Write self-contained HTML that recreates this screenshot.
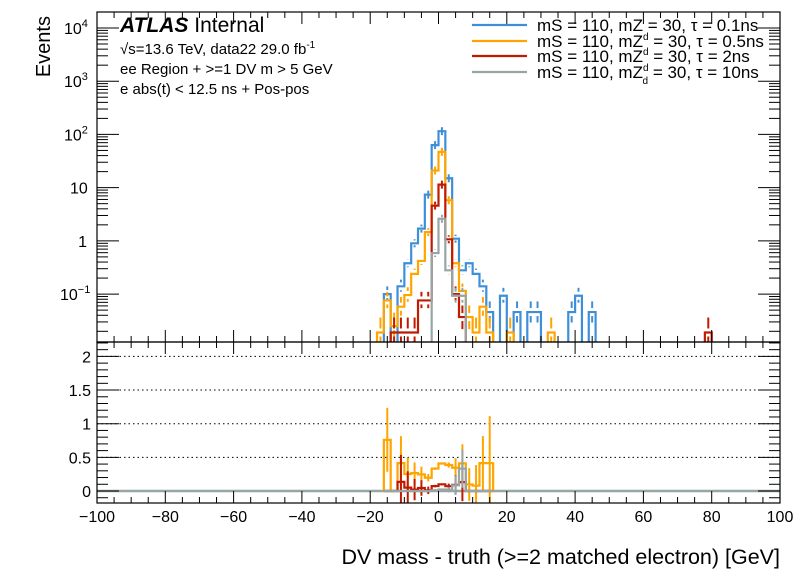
<!DOCTYPE html>
<html><head><meta charset="utf-8"><style>
body{margin:0;background:#fff;}
svg text{font-family:"Liberation Sans",sans-serif;}
</style></head><body>
<svg id="c" width="796" height="572" xmlns="http://www.w3.org/2000/svg"></svg>
<script>
// ---- data ----
const binStart = -18;   // first bin lower edge (GeV)
const binWidth = 2;
const blueVals   = [0, 0.1, 0, 0.14, 0.38, 0.9, 1.7, 7.4, 63, 115, 15, 1.1, 0.28, 0.38, 0.24, 0.14, 0.046, 0, 0.093, 0, 0.046, 0, 0.046, 0.046, 0, 0, 0, 0, 0.046, 0.093, 0, 0.046];
const orangeVals = [0.019, 0.076, 0.025, 0.058, 0.096, 0.24, 0.42, 1.46, 21, 47, 5.8, 0.38, 0.115, 0.037, 0.019, 0.058, 0.019, 0, 0, 0.019, 0, 0, 0, 0, 0, 0.019];
const redVals    = [0, 0, 0.019, 0.019, 0.019, 0.019, 0.076, 0.076, 4.6, 11.4, 1.07, 0.1, 0.037];
const grayVals   = [0, 0, 0, 0, 0, 0, 0, 0, 0.59, 2.6, 0.28, 0.093, 0.093];
const redExtraBin = 78, redExtraVal = 0.019;
const seriesNames = ["mS = 110, mZ_d = 30, τ = 0.1ns","mS = 110, mZ^d = 30, τ = 0.5ns","mS = 110, mZ^d = 30, τ = 2ns","mS = 110, mZ^d_d = 30, τ = 10ns"];
const xTicks = [-100,-80,-60,-40,-20,0,20,40,60,80,100];
const yTicksExp = [-1,0,1,2,3,4];
const yTickLabels = ["10","1","10","10","10","10"];
const rTicks = [0,0.5,1,1.5,2];
const rTickLabels = ["0","0.5","1","1.5","2"];

// ---- layout ----
const L=97,R=780,T=12,MB=342,RB=503;
const xS=v=>L+(v+100)/200*(R-L);
const yS=v=>MB-(Math.log10(v)+1.9)/6.2*(MB-T);
const rS=v=>491-v*67.3;
const svg=document.getElementById('c');
const NS="http://www.w3.org/2000/svg";
function el(tag,attrs,parent){const e=document.createElementNS(NS,tag);for(const k in attrs)e.setAttribute(k,attrs[k]);(parent||svg).appendChild(e);return e;}
const defs=el('defs',{});
const cp=el('clipPath',{id:'cm'},defs);el('rect',{x:L,y:T,width:R-L,height:MB-T},cp);
const cr=el('clipPath',{id:'cr'},defs);el('rect',{x:L,y:MB,width:R-L,height:RB-MB},cr);

rTicks.forEach((t,i)=>{if(t>0){const g=el('line',{x1:L,x2:R,y1:rS(t),y2:rS(t),stroke:'#000','stroke-dasharray':'1.5,3','stroke-width':1});}});

function drawHist(vals,start,color,name,g){
  let d='';let prev=null;
  vals.forEach((v,i)=>{
    const x0=xS(start+i*binWidth),x1=xS(start+(i+1)*binWidth);
    const y=v>0?yS(v):MB+5;
    if(prev===null)d+=`M${x0},${MB+5}`;
    d+=`L${x0},${y}L${x1},${y}`;prev=y;
  });
  d+=`L${xS(start+vals.length*binWidth)},${MB+5}`;
  const p=el('path',{d:d,fill:'none',stroke:color,'stroke-width':2.2},g);
  
  
  vals.forEach((v,i)=>{
    if(v<=0)return;
    const xc=xS(start+(i+0.5)*binWidth);const r=Math.min(0.9,0.35/Math.sqrt(v/0.05));
    const yh=yS(v*(1+r*1.6)),yl=yS(v*(1-r)),y=yS(v);
    const e1=el('line',{x1:xc,x2:xc,y1:yh,y2:y-4,stroke:color,'stroke-width':2},g);
    
    
    const e2=el('line',{x1:xc,x2:xc,y1:y+4,y2:Math.min(yl,MB),stroke:color,'stroke-width':2},g);
    
    
  });
}
const gm=el('g',{'clip-path':'url(#cm)'});

drawHist(blueVals,binStart,'#3f8fd8','tau-0p1ns',gm);
drawHist(orangeVals,binStart,'#ffa500','tau-0p5ns',gm);
drawHist(redVals,binStart,'#c01a00','tau-2ns',gm);
drawHist(grayVals,binStart,'#98a5a5','tau-10ns',gm);
drawHist([redExtraVal],redExtraBin,'#c01a00','tau-2ns-tail',gm);

// ratio
const gr=el('g',{'clip-path':'url(#cr)'});

const zl=el('line',{x1:L,x2:R,y1:rS(0),y2:rS(0),stroke:'#98a5a5','stroke-width':2.5},gr);

function drawRatio(vals,color,name){
  let d=`M${xS(binStart+binWidth)},${rS(0)}`;
  for(let i=1;i<=16;i++){
    const b=blueVals[i];
    const v=b>0?(vals[i]||0)/b:0;
    const x0=xS(binStart+i*binWidth),x1=xS(binStart+(i+1)*binWidth);
    d+=`L${x0},${rS(v)}L${x1},${rS(v)}`;
    const xc=(x0+x1)/2,er=(b>0&&v>0)?Math.min(0.7,0.15/Math.sqrt(b)):0;
    if(er>0){const e=el('line',{x1:xc,x2:xc,y1:rS(v+er),y2:rS(Math.max(v-er,-0.2)),stroke:color,'stroke-width':2},gr);
    }
  }
  d+=`L${xS(binStart+17*binWidth)},${rS(0)}`;
  const p=el('path',{d:d,fill:'none',stroke:color,'stroke-width':2.2},gr);
  
}
drawRatio(orangeVals,'#ffa500','tau-0p5ns');
drawRatio(redVals,'#c01a00','tau-2ns');
drawRatio(grayVals,'#98a5a5','tau-10ns');

[[T,MB],[MB,RB]].forEach(([a,b],k)=>{const f=el('rect',{x:L,y:a,width:R-L,height:b-a,fill:'none',stroke:'#000','stroke-width':1.2});});
for(let v=-100;v<=100;v+=5){
  const x=xS(v),big=v%20===0;
  [[MB,-1],[T,1],[RB,-1],[MB,1]].forEach(([y0,s])=>el('line',{x1:x,x2:x,y1:y0,y2:y0+s*(big?12:6),stroke:'#000','stroke-width':1}));
}
xTicks.forEach(v=>{const t=el('text',{x:xS(v),y:522,'text-anchor':'middle','font-size':16});t.textContent=(v<0?'−':'')+Math.abs(v);});
for(let e=-2;e<=4;e++)for(let m=1;m<10;m++){const v=m*Math.pow(10,e);const y=yS(v);if(y<T||y>MB)continue;
  el('line',{x1:L,x2:L+(m===1?22:11),y1:y,y2:y,stroke:'#000'});el('line',{x1:R,x2:R-(m===1?22:11),y1:y,y2:y,stroke:'#000'});}
yTicksExp.forEach((e,i)=>{const y=yS(Math.pow(10,e));
  const t=el('text',{x:e===0?87:(e===-1?60:(e===1?70:64)),y:y+6,'text-anchor':e===0?'end':'start','font-size':16});
  
  t.textContent=yTickLabels[i];
  if(e!==0&&e!==1){const s=el('tspan',{'font-size':11,dy:-7},t);s.textContent=e===-1?'−1':String(e);}
});
for(let k=-1;k<=22;k++){const v=k/10;const y=rS(v);const big=k%5===0;
  el('line',{x1:L,x2:L+(big?22:11),y1:y,y2:y,stroke:'#000'});el('line',{x1:R,x2:R-(big?22:11),y1:y,y2:y,stroke:'#000'});}
rTicks.forEach((v,i)=>{const t=el('text',{x:91,y:rS(v)+6,'text-anchor':'end','font-size':16});t.textContent=rTickLabels[i];});

let t=el('text',{x:780,y:564,'text-anchor':'end','font-size':21.5});t.textContent='DV mass - truth (>=2 matched electron) [GeV]';
t=el('text',{x:0,y:0,'text-anchor':'end','font-size':20,transform:'translate(50,16) rotate(-90)'});t.textContent='Events';
t=el('text',{x:120,y:32,'font-size':21});
let s=el('tspan',{'font-weight':'bold','font-style':'italic'},t);s.textContent='ATLAS';s=el('tspan',{},t);s.textContent=' Internal';
t=el('text',{x:120,y:54,'font-size':15});
t.textContent='√s=13.6 TeV, data22 29.0 fb';s=el('tspan',{'font-size':10,dy:-6},t);s.textContent='-1';
t=el('text',{x:120,y:74,'font-size':15});t.textContent='ee Region + >=1 DV m > 5 GeV';
t=el('text',{x:120,y:94,'font-size':15});t.textContent='e abs(t) < 12.5 ns + Pos-pos';

const cols=['#3f8fd8','#ffa500','#c01a00','#98a5a5'];
const legY=[25,41,56,72];
const taus=['0.1ns','0.5ns','2ns','10ns'];
const supers=['','d','d','d'];
seriesNames.forEach((n,i)=>{
  const g=el('g',{});
  el('line',{x1:472,x2:527,y1:legY[i],y2:legY[i],stroke:cols[i],'stroke-width':2.2},g);
  const tx=el('text',{x:537,y:legY[i]+6,'font-size':17},g);
  let a=el('tspan',{},tx);a.textContent='mS = 110, mZ';
  if(i===0){a=el('tspan',{},tx);a.textContent='    = 30, τ = '+taus[i];}
  else if(i===3){a=el('tspan',{'font-size':10,dy:-7},tx);a.textContent='d';a=el('tspan',{'font-size':10,dx:-6,dy:13},tx);a.textContent='d';a=el('tspan',{dy:-6},tx);a.textContent=' = 30, τ = '+taus[i];}
  else{a=el('tspan',{'font-size':10,dy:-7},tx);a.textContent=supers[i];a=el('tspan',{dy:7},tx);a.textContent=' = 30, τ = '+taus[i];}
});
</script>
</body></html>
